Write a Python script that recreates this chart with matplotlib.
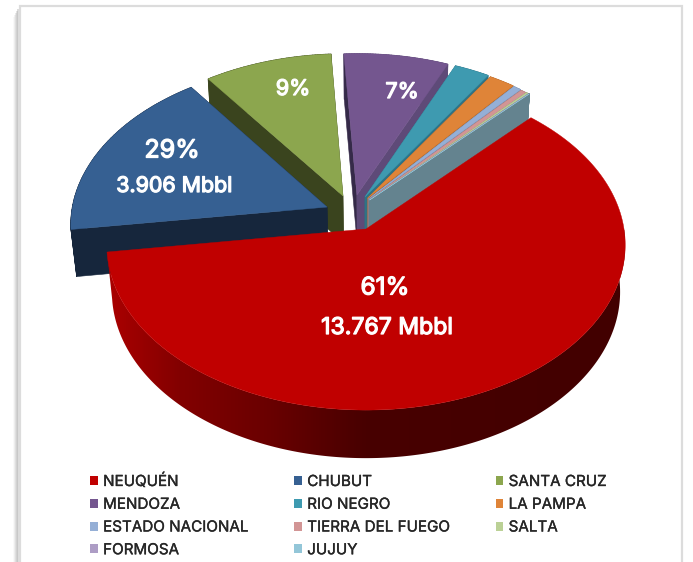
import numpy as np
import matplotlib
matplotlib.use("Agg")
import matplotlib.pyplot as plt
import matplotlib.patheffects as pe
from matplotlib.patches import Patch, Polygon
from matplotlib.collections import PolyCollection
from matplotlib.colors import LinearSegmentedColormap

# ---- data ----
provinces = ["NEUQUÉN", "CHUBUT", "SANTA CRUZ", "MENDOZA", "RIO NEGRO", "LA PAMPA",
             "ESTADO NACIONAL", "TIERRA DEL FUEGO", "SALTA", "FORMOSA", "JUJUY"]
production_mbbl = [13767, 3906, 2040, 1677, 567, 420, 130, 95, 40, 5, 3]
slice_labels = {"NEUQUÉN": ["61%", "13.767 Mbbl"], "CHUBUT": ["29%", "3.906 Mbbl"],
                "SANTA CRUZ": ["9%"], "MENDOZA": ["7%"]}

# ---- styles ----
top_colors = ["#C00000", "#366092", "#8CA64E", "#74568F", "#3E9AB0", "#DF8438",
              "#95AFD6", "#D29595", "#BBD196", "#AD9DC5", "#93C6D8"]
face_colors = ["#800000", "#16263C", "#3A441E", "#5E4A78", "#2E7385", "#A8612A",
               "#6F84A3", "#A06F6F", "#8E9F70", "#83779A", "#64838F"]
left_colors = ["#800000", "#16263C", "#3A441E", "#352A48", "#2E7385", "#A8612A",
               "#6F84A3", "#A06F6F", "#8E9F70", "#83779A", "#64838F"]
explode = [(0, 0), (-.153, .136), (-.091, .206), (-.036, .212), (-.004, .20), (.005, .19),
           (.008, .185), (.01, .18), (.012, .18), (.012, .18), (.014, .18)]
radius = [1, 1.0, .99, .985, .985, .985, .985, .985, .985, .985, .985]
draw_order = [2, 3, 4, 5, 6, 7, 8, 9, 10, 1, 0]
START = 46.8
CX, CY, A, B, C, K, M = 366, 229, 258, 163.5, 48, .097, .02


def project(X, Y, Z):
    """pie plane (X, Y) plus Z=0 top / Z=1 bottom to pixel coordinates"""
    w = 1 + K * np.asarray(Y) + M * np.asarray(Z)
    return CX + A * np.asarray(X) / w, CY - (B * np.asarray(Y) - C * np.asarray(Z)) / w


def xy(px, py):
    return np.column_stack([px, py])


fig = plt.figure(figsize=(6.93, 5.62), dpi=100, facecolor="white")
ax = fig.add_axes([0, 0, 1, 1])
ax.axis("off")

# card frame and shadow
for i, (alpha) in enumerate([.04, .08, .13, .18, .22]):
    ax.plot([14 + i, 14 + i], [9 + 2 * (4 - i), 562], color="#808080", alpha=alpha * 1.6, lw=1.1, zorder=1,
            solid_capstyle="butt")
ax.plot([19.5, 19.5, 681.5, 681.5], [562, 5.5, 5.5, 562], color="#DCDCDC", lw=1.6, zorder=2,
        solid_joinstyle="miter")

wall_stops = [(107, "#AA0000"), (180, "#820000"), (270, "#690000"), (365, "#480000"), (625, "#420000")]
wall_cmap = LinearSegmentedColormap.from_list(
    "wall", [((x - 107) / (625 - 107), c) for x, c in wall_stops])

# slices
fracs = np.array(production_mbbl, float) / np.sum(production_mbbl)
ends = START - np.cumsum(fracs) * 360
starts = ends + fracs * 360
z = 3
for i in draw_order:
    a0, a1 = np.radians(starts[i]), np.radians(ends[i])
    t = np.linspace(a0, a1, max(int(abs(a1 - a0) * 90), 6))
    ox, oy = explode[i]
    rx = ox + radius[i] * np.cos(t)
    ry = oy + radius[i] * np.sin(t)
    # outer wall
    tx, ty = project(rx, ry, 0)
    bx, by = project(rx, ry, 1)
    if i == 0:
        im = ax.imshow(np.linspace(0, 1, 520).reshape(1, -1), extent=[107, 625, 470, 230], cmap=wall_cmap,
                       aspect="auto", zorder=z, interpolation="bilinear")
        clip = Polygon(xy(np.r_[tx, bx[::-1]], np.r_[ty, by[::-1]]), transform=ax.transData)
        im.set_clip_path(clip)
    else:
        quads = [xy([tx[j], tx[j + 1], bx[j + 1], bx[j]], [ty[j], ty[j + 1], by[j + 1], by[j]])
                 for j in range(len(t) - 1)]
        ax.add_collection(PolyCollection(quads, facecolors=face_colors[i], edgecolors=face_colors[i],
                                         linewidths=.6, zorder=z))
    z += 1
    # radial cut faces
    ax0, ay0 = project(ox, oy, 0)
    bx0, by0 = project(ox, oy, 1)
    if i != 0:
        ax.fill([ax0, tx[0], bx[0], bx0], [ay0, ty[0], by[0], by0], color=left_colors[i], lw=.4, zorder=z)
        z += 1
        ax.fill([ax0, tx[-1], bx[-1], bx0], [ay0, ty[-1], by[-1], by0], color=face_colors[i], lw=.4, zorder=z)
        z += 1
    # top surface
    ax.fill(np.r_[ax0, tx], np.r_[ay0, ty], color=top_colors[i], lw=.3, zorder=z)
    z += 1

ax.set_xlim(0, 693)
ax.set_ylim(562, 0)

# slice labels
heavy = [pe.withStroke(linewidth=.9, foreground="white")]
label_font = dict(color="white", ha="center", va="center", family="Inter", zorder=100, path_effects=heavy)
ax.text(385, 288, slice_labels["NEUQUÉN"][0], fontsize=17.5, **label_font)
ax.text(387, 328, slice_labels["NEUQUÉN"][1], fontsize=16.6, **label_font)
ax.text(172, 151, slice_labels["CHUBUT"][0], fontsize=18, **label_font)
ax.text(174, 186, slice_labels["CHUBUT"][1], fontsize=15.4, **label_font)
ax.text(293, 89, slice_labels["SANTA CRUZ"][0], fontsize=15.5, **label_font)
ax.text(402, 92, slice_labels["MENDOZA"][0], fontsize=15.5, **label_font)

# legend: matplotlib fills by column, the reference reads by row
ncol, n = 3, len(provinces)
order = [k for c in range(ncol) for k in range(c, n, ncol)]
handles = [Patch(facecolor=top_colors[k], edgecolor="none", label=provinces[k]) for k in order]
leg = ax.legend(handles=handles, ncol=ncol, loc="upper left", bbox_to_anchor=(90 / 693, 1 - 472.5 / 562),
                bbox_transform=fig.transFigure, frameon=False, borderaxespad=0, borderpad=0,
                handlelength=.52, handleheight=.55, handletextpad=.34, columnspacing=3.02, labelspacing=.51,
                prop={"family": "Inter", "size": 10.95}, labelcolor="#262626")
leg.set_zorder(100)
for txt in leg.get_texts():
    txt.set_path_effects([pe.withStroke(linewidth=.25, foreground="#262626")])

fig.savefig("out.png", dpi=100, facecolor="white")
